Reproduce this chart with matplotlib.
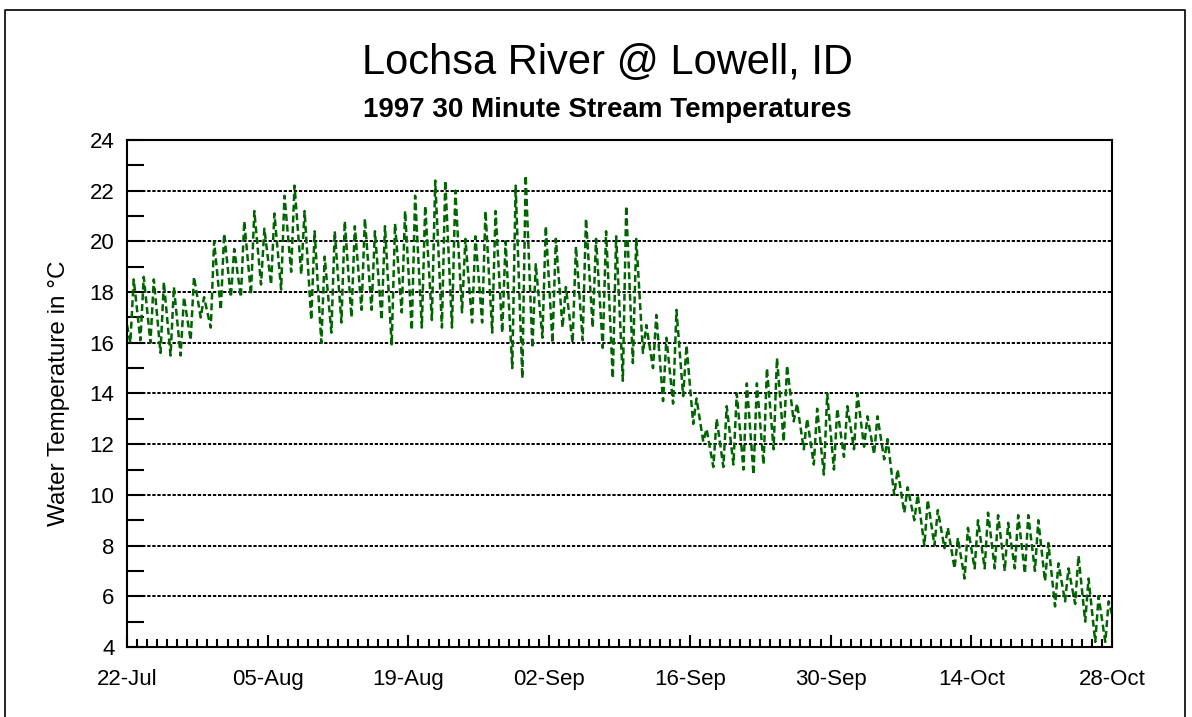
import numpy as np
import matplotlib
matplotlib.use("Agg")
import matplotlib.pyplot as plt
import matplotlib.dates as mdates
from matplotlib.lines import Line2D

plt.rcParams['font.family'] = ['Liberation Sans', 'DejaVu Sans']

# daily minimum / maximum water temperature (deg C), one value per day from 22-Jul-1997
day_min = [16.0, 16.1, 16.0, 15.6, 15.5, 15.5, 16.1, 17.0, 16.6, 17.3,
           17.8, 17.8, 17.9, 18.3, 18.3, 18.1, 18.8, 18.7, 16.9, 16.0,
           16.4, 16.8, 17.0, 17.3, 17.3, 16.9, 15.9, 17.2, 16.5, 16.6,
           16.9, 16.6, 16.6, 17.2, 16.8, 16.8, 16.4, 16.4, 15.0, 14.6,
           15.8, 16.2, 16.0, 16.6, 16.0, 16.1, 16.6, 15.8, 14.6, 14.5,
           15.2, 15.6, 15.0, 13.7, 13.6, 13.9, 12.8, 12.1, 11.1, 11.1,
           11.2, 11.0, 10.8, 11.2, 11.8, 12.1, 12.9, 11.8, 11.2, 10.8,
           11.0, 11.5, 11.8, 11.9, 11.6, 11.4, 10.0, 9.3, 9.0, 8.0,
           8.0, 7.9, 7.1, 6.7, 7.1, 7.1, 7.1, 7.0, 7.1, 6.9,
           7.0, 6.6, 5.6, 5.8, 5.7, 5.0, 4.2, 4.2]
day_max = [18.5, 18.6, 18.5, 18.4, 18.2, 17.8, 18.6, 17.8, 20.0, 20.3,
           19.7, 20.8, 21.2, 20.5, 21.1, 21.8, 22.2, 21.2, 20.4, 19.4,
           20.4, 20.8, 20.6, 20.9, 20.4, 20.6, 20.7, 21.2, 21.8, 21.4,
           22.4, 22.4, 22.0, 20.1, 20.2, 21.2, 21.2, 20.0, 22.2, 22.6,
           19.1, 20.6, 20.1, 18.2, 19.8, 20.9, 20.1, 20.4, 20.2, 21.4,
           20.1, 16.7, 17.1, 16.2, 17.3, 15.9, 13.8, 12.6, 13.0, 13.5,
           14.0, 14.4, 14.4, 15.0, 15.4, 15.1, 13.6, 13.0, 13.4, 14.0,
           13.4, 13.5, 14.0, 13.1, 13.1, 12.2, 11.0, 10.3, 10.0, 9.8,
           9.4, 8.7, 8.3, 8.7, 9.0, 9.3, 9.2, 8.9, 9.2, 9.2,
           9.0, 8.1, 7.3, 7.1, 7.6, 6.7, 6.0, 5.8]
start_temp = 16.7
end_temp = 5.3

start_date = np.datetime64('1997-07-22T00:00')
end_date = np.datetime64('1997-10-28T00:00')
tick_dates = ['1997-07-22', '1997-08-05', '1997-08-19', '1997-09-02',
              '1997-09-16', '1997-09-30', '1997-10-14', '1997-10-28']

# daily low around 08:00, daily high around 16:00
days = start_date + np.arange(len(day_min)) * np.timedelta64(1, 'D')
t_min = days + np.timedelta64(8, 'h')
t_max = days + np.timedelta64(16, 'h')
times = np.concatenate([[start_date], np.column_stack([t_min, t_max]).ravel(), [end_date]])
temps = np.concatenate([[start_temp], np.column_stack([day_min, day_max]).ravel(), [end_temp]])
times = times.astype('datetime64[m]').astype(object)

fig = plt.figure(figsize=(11.92, 7.17), dpi=100)
ax = fig.add_axes([127 / 1192, 1 - 647 / 717, (1112 - 127) / 1192, (647 - 140) / 717])

ax.plot(times, temps, color='#006400', lw=1.8, linestyle=(0, (2.8, 1.5)))

ax.set_ylim(4, 24)
ax.set_xlim(start_date.astype(object), end_date.astype(object))
ax.set_yticks(np.arange(4, 25, 2))
ax.set_yticks(np.arange(5, 24, 2), minor=True)
for yv in range(6, 23, 2):
    ax.axhline(yv, color='black', lw=1.4, linestyle=(0, (1.7, 0.9)), zorder=0)

ax.set_xticks([np.datetime64(d).astype(object) for d in tick_dates])
ax.xaxis.set_minor_locator(mdates.DayLocator())
ax.xaxis.set_major_formatter(mdates.DateFormatter('%d-%b'))

ax.tick_params(axis='y', which='both', direction='in', length=12, width=1.5, labelsize=16, pad=9)
ax.tick_params(axis='x', which='major', direction='in', length=9, width=1.5, labelsize=16, pad=16)
ax.tick_params(axis='x', which='minor', direction='in', length=6, width=1.5)
for s in ax.spines.values():
    s.set_linewidth(1.5)

ax.set_ylabel('Water Temperature in °C', fontsize=17.5, labelpad=14)

fig.text(607 / 1192, 1 - 63 / 717, 'Lochsa River @ Lowell, ID', ha='center', va='center', fontsize=30)
fig.text(607 / 1192, 1 - 110 / 717, '1997 30 Minute Stream Temperatures', ha='center', va='center',
         fontsize=20, fontweight='bold')

# outer frame of the figure
fx = [5 / 1192, 5 / 1192, 1185 / 1192, 1185 / 1192]
fy = [0, 1 - 10 / 717, 1 - 10 / 717, 0]
fig.add_artist(Line2D(fx, fy, transform=fig.transFigure, color='black', lw=1.2))

fig.savefig('out.png', dpi=100)
